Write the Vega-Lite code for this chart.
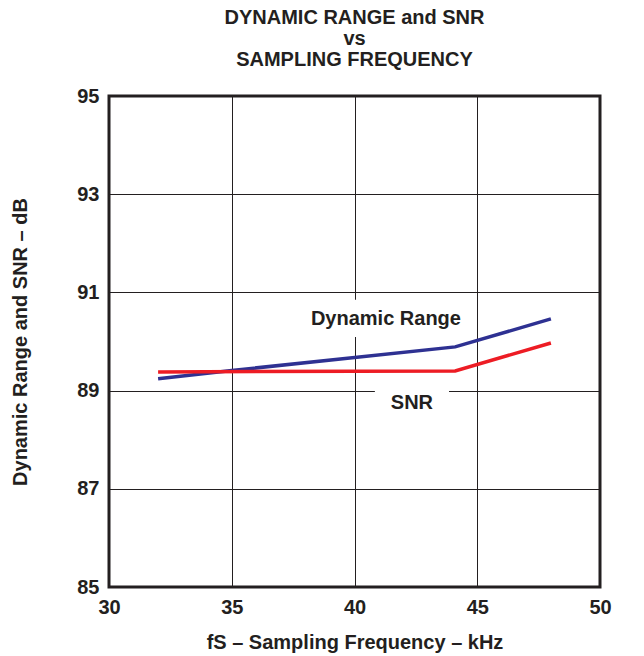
{
  "$schema": "https://vega.github.io/schema/vega-lite/v6.json",
  "width": 491,
  "height": 491,
  "autosize": {"type": "none"},
  "padding": {"left": 109, "top": 96, "right": 44, "bottom": 69},
  "background": "white",
  "title": {
    "text": ["DYNAMIC RANGE and SNR", "vs", "SAMPLING FREQUENCY"],
    "anchor": "middle",
    "font": "Liberation Sans",
    "fontSize": 20,
    "fontWeight": "bold",
    "color": "#231F20",
    "lineHeight": 21,
    "offset": 16
  },
  "config": {
    "view": {"stroke": "#231F20", "strokeWidth": 3},
    "axis": {
      "domain": false,
      "ticks": false,
      "grid": true,
      "gridColor": "#231F20",
      "gridWidth": 1,
      "gridOpacity": 1,
      "labelFont": "Liberation Sans",
      "labelFontSize": 20,
      "labelFontWeight": "bold",
      "labelColor": "#231F20",
      "labelFlush": false,
      "titleFont": "Liberation Sans",
      "titleFontSize": 20,
      "titleFontWeight": "bold",
      "titleColor": "#231F20",
      "labelPadding": 10
    }
  },
  "datasets": {
    "lines": [
      {"f": 32, "db": 89.24, "series": "Dynamic Range"},
      {"f": 35, "db": 89.41, "series": "Dynamic Range"},
      {"f": 44.1, "db": 89.89, "series": "Dynamic Range"},
      {"f": 48, "db": 90.46, "series": "Dynamic Range"},
      {"f": 32, "db": 89.38, "series": "SNR"},
      {"f": 44.1, "db": 89.4, "series": "SNR"},
      {"f": 48, "db": 89.97, "series": "SNR"}
    ],
    "boxes": [
      {"x1": 37.8, "x2": 44.7, "y1": 90.09, "y2": 90.85},
      {"x1": 40.83, "x2": 43.85, "y1": 88.4, "y2": 89.22}
    ],
    "labels": [
      {"label": "Dynamic Range", "f": 41.28, "db": 90.46},
      {"label": "SNR", "f": 42.34, "db": 88.75}
    ]
  },
  "layer": [
    {
      "data": {"name": "boxes"},
      "mark": {"type": "rect", "fill": "white", "stroke": null},
      "encoding": {
        "x": {
          "field": "x1", "type": "quantitative",
          "scale": {"domain": [30, 50], "nice": false, "zero": false},
          "axis": {"values": [30, 35, 40, 45, 50], "title": "fS – Sampling Frequency – kHz", "titlePadding": 15}
        },
        "x2": {"field": "x2"},
        "y": {
          "field": "y1", "type": "quantitative",
          "scale": {"domain": [85, 95], "nice": false, "zero": false},
          "axis": {"values": [85, 87, 89, 91, 93, 95], "title": "Dynamic Range and SNR – dB", "titlePadding": 46}
        },
        "y2": {"field": "y2"}
      }
    },
    {
      "data": {"name": "lines"},
      "mark": {"type": "line", "strokeWidth": 3.5},
      "encoding": {
        "x": {"field": "f", "type": "quantitative"},
        "y": {"field": "db", "type": "quantitative"},
        "color": {
          "field": "series", "type": "nominal",
          "scale": {"domain": ["Dynamic Range", "SNR"], "range": ["#2E3192", "#ED1C24"]},
          "legend": null
        }
      }
    },
    {
      "data": {"name": "labels"},
      "mark": {"type": "text", "font": "Liberation Sans", "fontSize": 20, "fontWeight": "bold", "color": "#231F20", "align": "center", "baseline": "middle"},
      "encoding": {
        "x": {"field": "f", "type": "quantitative"},
        "y": {"field": "db", "type": "quantitative"},
        "text": {"field": "label"}
      }
    }
  ]
}
